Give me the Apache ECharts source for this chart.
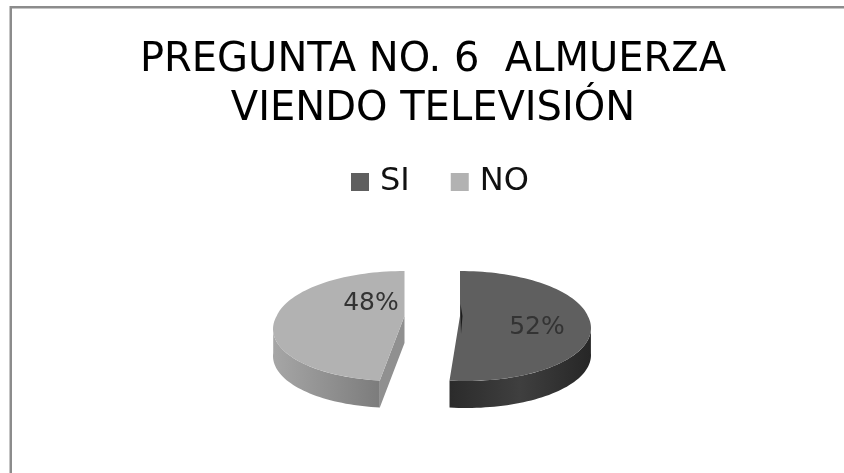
<!DOCTYPE html>
<html><head><meta charset="utf-8">
<style>html,body{margin:0;padding:0;background:#fff}#c{width:844px;height:473px}</style>
<script src="https://cdn.jsdelivr.net/npm/echarts@6/dist/echarts.min.js"></script></head>
<body><div id="c"></div>
<script>
const categories = ['SI', 'NO'];
const values = [52, 48];
const titleLines = ['PREGUNTA NO. 6  ALMUERZA', 'VIENDO TELEVISIÓN'];

const total = values.reduce((a, b) => a + b, 0);
const look = [
  {top:'#5f5f5f', wall:['#2b2b2b','#3f3f3f','#262626'], cut:'#1c1c1c', cx:460, lean:0.09, label:[537,327]},
  {top:'#b2b2b2', wall:['#a6a6a6','#7c7c7c'], cut:'#909090', cx:404.5, lean:-0.13, label:[371,303]}
];
const G = {rx:130, ry:55, ey:326, cy:316, depth:27};

function point(cfg, deg) {
  const a = deg * Math.PI / 180;
  const y = G.ey - G.ry * Math.cos(a);
  const x = cfg.cx + G.rx * Math.sin(a) + cfg.lean * Math.max(0, y - G.cy);
  return [x, y];
}
function arc(cfg, from, to) {
  const pts = [];
  const n = Math.max(2, Math.ceil(Math.abs(to - from) / 2));
  for (let i = 0; i <= n; i++) pts.push(point(cfg, from + (to - from) * i / n));
  return pts;
}
function renderSlice(idx) {
  return function (params, api) {
    const cfg = look[idx];
    let start = 0;
    for (let i = 0; i < idx; i++) start += values[i] / total * 360;
    const end = start + api.value(0) / total * 360;
    const children = [];
    const down = p => [p[0], p[1] + G.depth];
    // outer wall: only the near half of the rim shows
    const wallFrom = Math.max(start, 90), wallTo = Math.min(end, 270);
    const rim = arc(cfg, wallFrom, wallTo);
    children.push({type:'polygon', shape:{points: rim.concat(rim.map(down).reverse())},
      style:{fill:{type:'linear',x:0,y:0,x2:1,y2:0,colorStops:cfg.wall.map((c,i,l)=>({offset:i/(l.length-1),color:c}))}}});
    const c = [cfg.cx, G.cy], a0 = point(cfg, start), a1 = point(cfg, end);
    if (idx === 1) {
      // cut face seen on the left-hand wedge
      children.push({type:'polygon', shape:{points:[a1, c, a0, down(a0), down(c)]}, style:{fill:cfg.cut}});
    }
    children.push({type:'polygon', shape:{points:[c].concat(arc(cfg, start, end))}, style:{fill:cfg.top}});
    if (idx === 0) {
      // thin sliver of the far cut face at the wedge's bend
      children.push({type:'polygon', shape:{points:[[c[0]+0.5,c[1]-12],[c[0]+2.5,c[1]],[c[0]+1,c[1]+18],[c[0]+0.5,c[1]]]}, style:{fill:cfg.cut}});
    }
    children.push({type:'text', x:cfg.label[0], y:cfg.label[1], style:{
      text: Math.round(api.value(0) / total * 100) + '%', fill:'#333', align:'center', verticalAlign:'middle',
      font:'25px "DejaVu Sans"'}});
    return {type:'group', children};
  };
}
const chart = echarts.init(document.getElementById('c'), null, {renderer:'canvas'});
chart.setOption({
  animation:false,
  backgroundColor:'#fff',
  title:{text:titleLines.join('\n'), left:433, top:36, padding:0, textAlign:'center',
    textStyle:{fontFamily:'"DejaVu Sans"', fontWeight:'normal', fontSize:40, lineHeight:49, color:'#000'}},
  legend:{data:categories, left:351, top:166, padding:0, icon:'rect', itemWidth:18, itemHeight:18, itemGap:41,
    textStyle:{fontFamily:'"DejaVu Sans"', fontSize:32, color:'#111', padding:[0,0,0,6]}},
  graphic:[
    {type:'rect', shape:{x:10,y:6,width:834,height:2.5}, style:{fill:'#8c8c8c'}},
    {type:'rect', shape:{x:9.5,y:6,width:2.5,height:467}, style:{fill:'#8c8c8c'}}
  ],
  series:categories.map((name,i)=>({
    type:'custom', name, coordinateSystem:'none', data:[[values[i]]],
    itemStyle:{color:look[i].top}, renderItem:renderSlice(i), silent:true
  }))
});
</script></body></html>
